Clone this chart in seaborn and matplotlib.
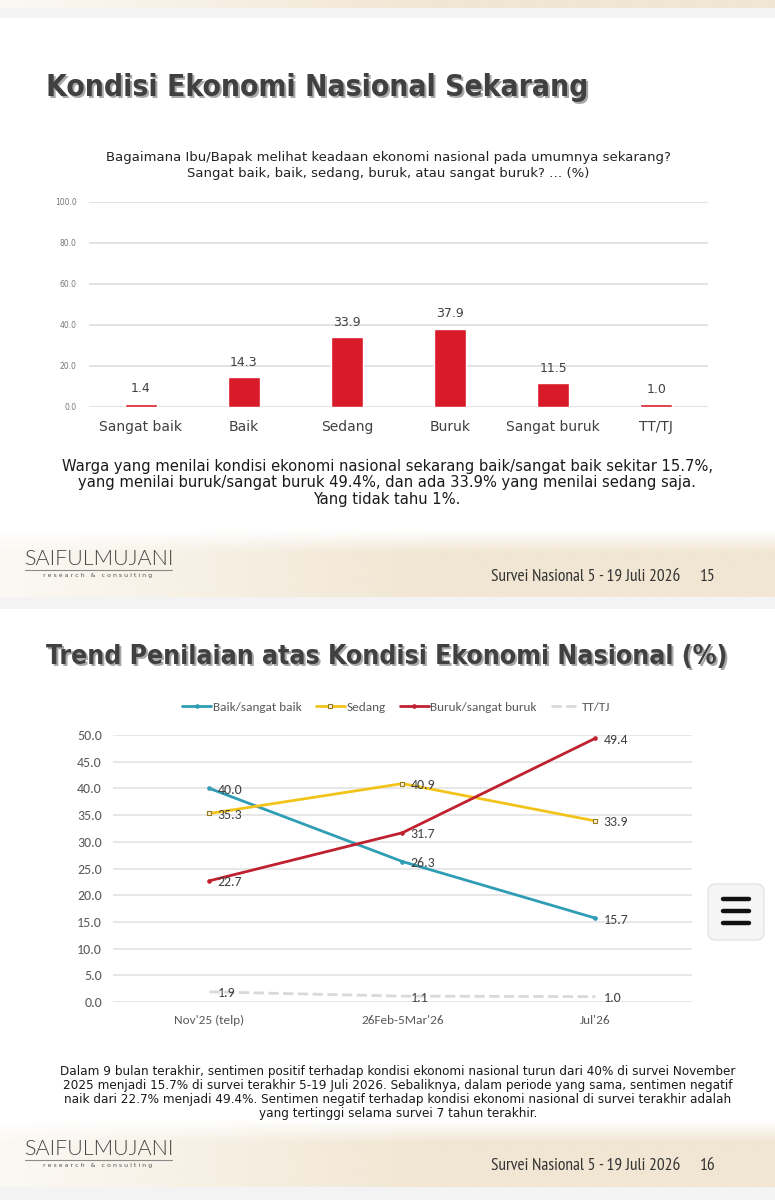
import matplotlib
matplotlib.use("Agg")
import matplotlib.pyplot as plt
from matplotlib.colors import to_rgb
from matplotlib.patches import FancyBboxPatch, Rectangle
import numpy as np
import pandas as pd
import seaborn as sns

W, H = 775, 1200

# slide 15 data
categories = ["Sangat baik", "Baik", "Sedang", "Buruk", "Sangat buruk", "TT/TJ"]
shares = [1.4, 14.3, 33.9, 37.9, 11.5, 1.0]

# slide 16 data
periods = ["Nov'25 (telp)", "26Feb-5Mar'26", "Jul'26"]
baik = [40.0, 26.3, 15.7]
sedang = [35.3, 40.9, 33.9]
buruk = [22.7, 31.7, 49.4]
tttj = [1.9, 1.1, 1.0]

NARROW = ["PT Sans Narrow", "DejaVu Sans"]
CHART = ["Carlito", "DejaVu Sans"]
LOGO = ["Lato", "DejaVu Sans"]
COND = dict(family="DejaVu Sans", stretch="condensed")

sns.set_theme(style="white")
plt.rcParams["font.family"] = ["DejaVu Sans"]

fig = plt.figure(figsize=(W / 100, H / 100), dpi=100)


def rect(x0, y0, x1, y1):
    return [x0 / W, 1 - y1 / H, (x1 - x0) / W, (y1 - y0) / H]


bg = fig.add_axes([0, 0, 1, 1], zorder=0)
bg.axis("off")


def beige_band(y0, y1, fade_top=True):
    xs = np.linspace(0, 1, 400)
    ys = np.linspace(0, 1, 80)
    a = (0.25 + 0.75 * np.clip(xs * 1.8, 0, 1))[None, :]
    if fade_top:
        a = a * np.clip(ys * 3, 0, 1)[:, None]
    else:
        a = a * np.ones_like(ys)[:, None]
    img = np.zeros((80, 400, 4))
    img[..., :3] = to_rgb("#efe2cb")
    img[..., 3] = a * 0.85
    bg.imshow(img, extent=[0, W, y1, y0], aspect="auto", interpolation="bilinear")


beige_band(0, 8, fade_top=False)
bg.add_patch(Rectangle((0, 8), W, 10, color="#f3f3f3", lw=0))
beige_band(530, 597)
bg.add_patch(Rectangle((0, 597), W, 12, color="#f3f3f3", lw=0))
beige_band(1120, 1187)
bg.add_patch(Rectangle((0, 1187), W, 13, color="#f3f3f3", lw=0))


def slide_title(x, y, s, size):
    bg.text(x + 2.5, y + 2.5, s, fontsize=size, weight="bold", **COND,
            color="#a8a8a8", va="baseline", ha="left")
    bg.text(x, y, s, fontsize=size, weight="bold", **COND,
            color="#404040", va="baseline", ha="left")


def footer(y_logo, y_text, page):
    bg.text(24, y_logo, "SAIFULMUJANI", fontsize=15.5, family=LOGO, weight=300,
            color="#444444", va="center", ha="left")
    bg.plot([25, 172], [y_logo + 11, y_logo + 11], color="#8a8a8a", lw=0.8)
    bg.text(98, y_logo + 17, "r e s e a r c h   &   c o n s u l t i n g", fontsize=4.5,
            color="#555555", va="center", ha="center")
    bg.text(680, y_text, "Survei Nasional 5 - 19 Juli 2026", fontsize=12.5, family=NARROW,
            color="#333333", va="center", ha="right")
    bg.text(700, y_text, page, fontsize=12.5, family=NARROW,
            color="#333333", va="center", ha="left")


slide_title(46, 96, "Kondisi Ekonomi Nasional Sekarang", 21.5)
slide_title(46, 664, "Trend Penilaian atas Kondisi Ekonomi Nasional (%)", 19.1)

bg.text(388, 166, "Bagaimana Ibu/Bapak melihat keadaan ekonomi nasional pada umumnya sekarang?\n"
        "Sangat baik, baik, sedang, buruk, atau sangat buruk? \u2026 (%)",
        fontsize=9.5, color="#222222", ha="center", va="center", linespacing=1.3)

bg.text(387, 483, "Warga yang menilai kondisi ekonomi nasional sekarang baik/sangat baik sekitar 15.7%,\n"
        "yang menilai buruk/sangat buruk 49.4%, dan ada 33.9% yang menilai sedang saja.\n"
        "Yang tidak tahu 1%.",
        fontsize=11.8, **COND, color="#1a1a1a", ha="center", va="center", linespacing=1.12)

bg.text(398, 1093, "Dalam 9 bulan terakhir, sentimen positif terhadap kondisi ekonomi nasional turun dari 40% di survei November\n"
        "2025 menjadi 15.7% di survei terakhir 5-19 Juli 2026. Sebaliknya, dalam periode yang sama, sentimen negatif\n"
        "naik dari 22.7% menjadi 49.4%. Sentimen negatif terhadap kondisi ekonomi nasional di survei terakhir adalah\n"
        "yang tertinggi selama survei 7 tahun terakhir.",
        fontsize=9.6, **COND, color="#1a1a1a", ha="center", va="center", linespacing=1.1)

footer(559, 577, "15")
footer(1149, 1166, "16")

# menu button overlay
bg.add_patch(FancyBboxPatch((708, 884), 56, 56, boxstyle="round,pad=0,rounding_size=8",
                            facecolor="#f5f5f5", edgecolor="#e4e4e4", lw=1))
for yy in (898.5, 911, 923):
    bg.plot([723, 749], [yy, yy], color="#111111", lw=3.2, solid_capstyle="round")

bg.set_xlim(0, W)
bg.set_ylim(H, 0)

# ---- bar chart (slide 15)
ax1 = fig.add_axes(rect(89, 201.5, 708, 406.5), zorder=2)
ax1.patch.set_alpha(0)
df_bar = pd.DataFrame({"kategori": categories, "persen": shares})
sns.barplot(data=df_bar, x="kategori", y="persen", color="#d91b29", width=0.31,
            saturation=1, ax=ax1)
ax1.set_xlim(-0.5, len(categories) - 0.5)
ax1.set_ylim(0, 100)
ax1.set_yticks(range(0, 101, 20))
ax1.set_yticklabels([f"{v:.1f}" for v in range(0, 101, 20)])
ax1.yaxis.grid(True, color="#e3e3e3", lw=1.4)
ax1.set_axisbelow(True)
for sp in ax1.spines.values():
    sp.set_visible(False)
ax1.tick_params(axis="y", length=0, pad=9, labelsize=5.5, labelcolor="#777777")
ax1.tick_params(axis="x", length=0, pad=10, labelsize=10, labelcolor="#404040")
ax1.set_xlabel("")
ax1.set_ylabel("")
for i, v in enumerate(shares):
    ax1.annotate(f"{v:.1f}", (i, v), xytext=(0, 6), textcoords="offset points",
                 ha="center", va="bottom", fontsize=9, color="#404040")

# ---- line chart (slide 16)
ax2 = fig.add_axes(rect(113, 735, 692, 1002), zorder=2)
ax2.patch.set_alpha(0)
pos = list(range(len(periods)))
series = [
    ("Baik/sangat baik", baik, "#2f9db3", "-", "o", "#2f9db3"),
    ("Sedang", sedang, "#f2c41b", "-", "s", "#f7f3e0"),
    ("Buruk/sangat buruk", buruk, "#c0212e", "-", "o", "#c0212e"),
    ("TT/TJ", tttj, "#d9d9d9", "--", None, "#d9d9d9"),
]
for name, vals, col, ls, mk, mfc in series:
    sns.lineplot(x=pos, y=vals, color=col, linestyle=ls, lw=2, marker=mk,
                 markersize=3.5 if mk == "s" else 2.5, markerfacecolor=mfc,
                 markeredgecolor="#9a7a1c" if mk == "s" else col, markeredgewidth=0.8,
                 label=name, ax=ax2, dashes=(4, 3) if ls == "--" else None)
    for x, v in zip(pos, vals):
        ax2.annotate(f"{v:.1f}", (x, v), xytext=(6, -1), textcoords="offset points",
                     ha="left", va="center", fontsize=10, family=CHART, color="#404040")

ax2.set_xlim(-0.5, len(periods) - 0.5)
ax2.set_ylim(0, 50)
ax2.set_yticks(np.arange(0, 50.1, 5))
ax2.set_yticklabels([f"{v:.1f}" for v in np.arange(0, 50.1, 5)], family=CHART)
ax2.set_xticks(pos)
ax2.set_xticklabels(periods, family=CHART)
ax2.yaxis.grid(True, color="#e3e3e3", lw=1.2)
ax2.set_axisbelow(True)
for sp in ax2.spines.values():
    sp.set_visible(False)
ax2.tick_params(axis="y", length=0, pad=8, labelsize=10, labelcolor="#595959")
ax2.tick_params(axis="x", length=0, pad=9, labelsize=9.5, labelcolor="#595959")
ax2.set_xlabel("")
ax2.set_ylabel("")
ax2.legend(loc="center", bbox_to_anchor=(396 / W, 1 - 707 / H), bbox_transform=fig.transFigure,
           ncol=4, frameon=False, prop={"family": CHART, "size": 9.5}, labelcolor="#595959",
           handlelength=2.2, handletextpad=0.1, columnspacing=1.1)

fig.savefig("out.png", dpi=100)
